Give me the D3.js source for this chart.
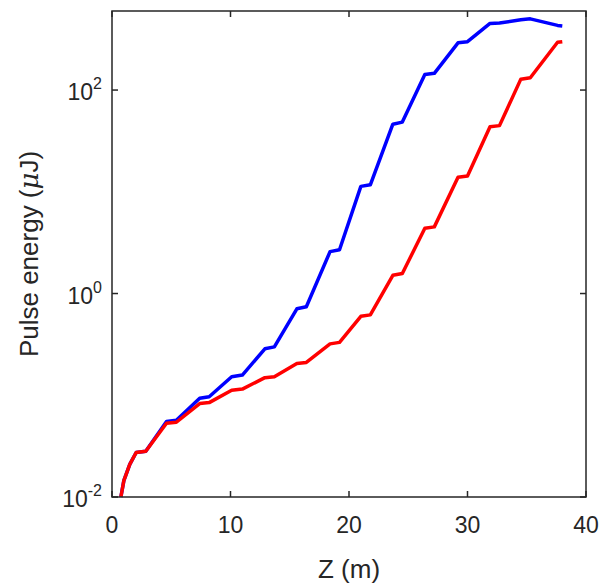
<!DOCTYPE html>
<html>
<head>
<meta charset="utf-8">
<script src="https://cdn.jsdelivr.net/npm/d3@7"></script>
<style>body{margin:0;background:#fff}</style>
</head>
<body>
<div id="chart"></div>
<script>
// data
const z = [0.75, 1.0, 1.5, 2.04, 2.85, 4.6, 5.43, 7.4, 8.2, 10.1, 11, 12.9, 13.7, 15.6, 16.4,
  18.4, 19.2, 21, 21.8, 23.7, 24.5, 26.4, 27.2, 29.2, 30, 31.9, 32.7, 34.5, 35.3, 37.6, 38];
const blue = [0.01, 0.0145, 0.0209, 0.0274, 0.0282, 0.0552, 0.0569, 0.0933, 0.0966, 0.152, 0.158,
  0.286, 0.299, 0.708, 0.741, 2.58, 2.69, 11.3, 11.7, 46.2, 48.4, 142, 146, 291, 299,
  452, 457, 490, 501, 432, 427];
const red = [0.01, 0.0145, 0.0209, 0.0274, 0.0282, 0.053, 0.0543, 0.0828, 0.0847, 0.112, 0.115,
  0.149, 0.152, 0.205, 0.21, 0.32, 0.331, 0.597, 0.617, 1.51, 1.57, 4.39, 4.52, 13.9, 14.3,
  43.6, 44.7, 128, 132, 295, 299];
const xTicks = [0, 10, 20, 30, 40];
const yTicks = [-2, 0, 2];

const w = 601, h = 585;
const m = { top: 11, right: 15, bottom: 88, left: 112 };
const font = "Liberation Sans, Arial, sans-serif";
const ink = "#262626";

const svg = d3.select("#chart").append("svg")
  .attr("width", w).attr("height", h);

const x = d3.scaleLinear().domain([0, 40]).range([m.left, w - m.right]);
const y = d3.scaleLog().domain([0.01, Math.pow(10, 2.777)]).range([h - m.bottom, m.top]);

const line = d3.line()
  .x((d) => x(d[0]))
  .y((d) => y(d[1]));

[[blue, "#0000ff"], [red, "#ff0000"]].forEach(([vals, col]) => {
  svg.append("path")
    .datum(z.map((v, i) => [v, vals[i]]))
    .attr("fill", "none")
    .attr("stroke", col)
    .attr("stroke-width", 3.5)
    .attr("stroke-linejoin", "round")
    .attr("d", line);
});

// box and ticks
const g = svg.append("g").attr("stroke", ink).attr("stroke-width", 1.5);
g.append("rect")
  .attr("x", m.left).attr("y", m.top)
  .attr("width", w - m.left - m.right).attr("height", h - m.top - m.bottom)
  .attr("fill", "none");
xTicks.forEach((t) => {
  g.append("line").attr("x1", x(t)).attr("x2", x(t)).attr("y1", h - m.bottom).attr("y2", h - m.bottom - 6);
  g.append("line").attr("x1", x(t)).attr("x2", x(t)).attr("y1", m.top).attr("y2", m.top + 6);
});
yTicks.forEach((t) => {
  const yy = y(Math.pow(10, t));
  g.append("line").attr("x1", m.left).attr("x2", m.left + 6).attr("y1", yy).attr("y2", yy);
  g.append("line").attr("x1", w - m.right).attr("x2", w - m.right - 6).attr("y1", yy).attr("y2", yy);
});

// tick labels
svg.selectAll("text.xt").data(xTicks).join("text")
  .attr("class", "xt")
  .attr("x", (d) => x(d)).attr("y", h - m.bottom + 36)
  .attr("text-anchor", "middle")
  .attr("font-family", font).attr("font-size", 23).attr("fill", ink)
  .text((d) => d);

const yt = svg.selectAll("text.yt").data(yTicks).join("text")
  .attr("class", "yt")
  .attr("x", m.left - 10).attr("y", (d) => y(Math.pow(10, d)) + 10)
  .attr("text-anchor", "end")
  .attr("font-family", font).attr("font-size", 23).attr("fill", ink);
yt.append("tspan").text("10");
yt.append("tspan").attr("dy", -11).attr("font-size", 16).text((d) => d);

// axis titles
svg.append("text")
  .attr("x", (x(0) + x(40)) / 2).attr("y", h - 7)
  .attr("text-anchor", "middle")
  .attr("font-family", font).attr("font-size", 26).attr("fill", ink)
  .text("Z (m)");

const yl = svg.append("text")
  .attr("transform", `translate(38, ${(m.top + h - m.bottom) / 2})rotate(-90)`)
  .attr("text-anchor", "middle")
  .attr("font-family", font).attr("font-size", 26).attr("fill", ink);
yl.append("tspan").text("Pulse energy (");
yl.append("tspan").attr("font-style", "italic").attr("font-family", "DejaVu Serif, serif").text("μ");
yl.append("tspan").text("J)");
</script>
</body>
</html>
